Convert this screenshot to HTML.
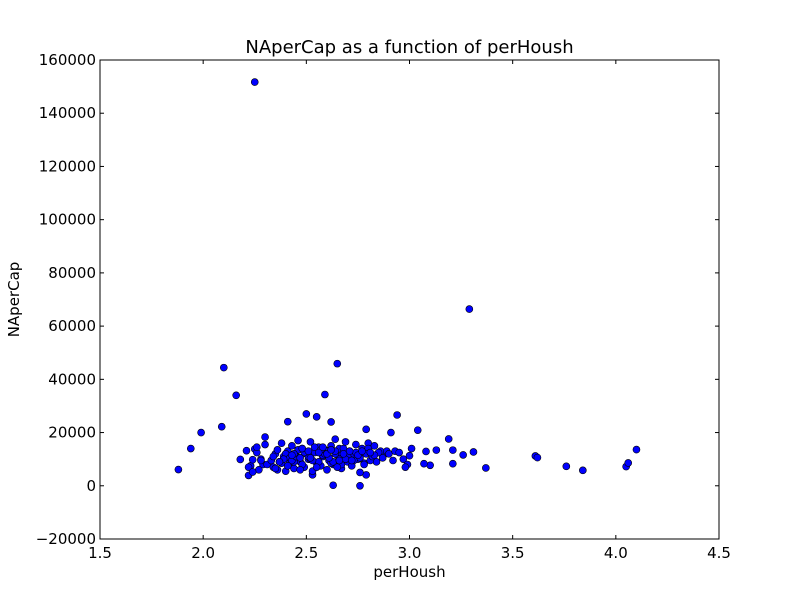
<!DOCTYPE html>
<html><head><meta charset="utf-8"><style>
html,body{margin:0;padding:0;background:#fff;}
svg{display:block;font-family:"DejaVu Sans","Liberation Sans",sans-serif;}
</style></head><body>
<svg id="chart" width="800" height="600" viewBox="0 0 800 600"></svg>
<script>
const xTicks=[1.5,2.0,2.5,3.0,3.5,4.0,4.5];
const yTicks=[-20000,0,20000,40000,60000,80000,100000,120000,140000,160000];
const xVals=[2.25,3.29,2.65,2.10,2.16,2.59,1.88,1.94,1.99,2.09,2.18,2.22,2.30,2.50,2.55,2.62,2.41,2.94,3.04,3.19,2.79,2.91,3.13,3.21,3.26,3.31,3.37,3.61,3.62,3.76,3.84,4.05,4.06,4.10,2.63,2.76,2.79,2.53,3.08,3.10,3.07,3.21,2.97,3.00,3.01,2.99,2.98,2.92,2.88,2.86,2.84,
2.21,2.23,2.24,2.25,2.26,2.27,2.28,2.29,2.22,2.24,2.26,2.28,2.30,2.31,2.33,2.34,2.35,2.36,2.37,2.38,2.39,2.40,2.41,2.42,2.43,2.44,2.45,2.46,2.47,2.48,2.49,2.50,2.51,2.52,2.53,2.54,2.55,2.56,2.57,2.58,2.59,2.60,2.61,2.62,2.63,2.64,2.65,2.66,2.67,2.68,2.69,2.70,2.71,2.72,2.73,2.74,2.75,2.76,2.77,2.78,2.79,2.80,2.81,2.82,2.83,2.85,2.87,2.89,2.90,2.93,2.95,
2.34,2.36,2.38,2.40,2.42,2.44,2.46,2.48,2.50,2.52,2.54,2.56,2.58,2.60,2.62,2.64,2.66,2.68,2.70,2.72,2.74,2.76,2.78,2.80,2.82,2.35,2.39,2.43,2.47,2.51,2.55,2.59,2.63,2.67,2.71,2.75,2.79,2.83,2.37,2.41,2.45,2.49,2.53,2.57,2.61,2.65,2.69,2.73,2.77,2.81,2.44,2.48,2.52,2.56,2.60,2.64,2.68,2.72,2.43,2.47,2.51,2.58,2.62,2.66,2.70,2.74];
const yVals=[151700,66400,45900,44400,34000,34300,6100,14000,20000,22200,9900,3900,18300,27000,25900,24000,24100,26600,20900,17600,21200,20000,13400,13400,11600,12700,6700,11200,10600,7300,5800,7200,8600,13600,200,0,4100,4100,12900,7700,8300,8300,10000,11300,14000,8000,7000,9500,12000,13000,9000,
13200,7500,9800,13800,12500,6000,10000,8000,7000,5200,14500,9500,15500,8000,9500,7000,12000,6000,9000,16000,11000,5500,13000,8500,15000,6500,11500,17000,9000,14000,7000,12000,10000,16500,5500,12500,8500,14500,7500,11000,13500,6000,9500,15000,8000,17500,11500,14000,6500,10500,16500,9000,13000,7500,12000,15500,10000,5000,14000,8500,13000,16000,9500,11500,15000,12500,10500,13000,12000,13000,12500,
11000,13500,8500,12000,10500,9000,13500,8000,12500,10000,14500,9000,11500,13000,8500,12000,10000,14000,11000,9500,12500,10500,8000,14000,11000,6500,10000,9500,6000,11000,7000,12000,9000,8000,13000,11500,12000,11500,9000,7500,11000,12500,9500,13500,10500,7000,10000,9500,13000,12500,12000,14000,10500,12500,12000,13000,12000,9500,11500,10500,13000,14500,13500,9500];
const svg=document.getElementById('chart');
const NS='http://www.w3.org/2000/svg';
const L=100,R=719,T=60,B=539;
const xs=v=>L+(v-1.5)/3*(R-L);
const ys=v=>B-(v+20000)/180000*(B-T);
function mk(tag,attrs,parent){const e=document.createElementNS(NS,tag);for(const k in attrs)e.setAttribute(k,attrs[k]);(parent||svg).appendChild(e);return e;}
const pts=mk('g',{});


const n=Math.min(xVals.length,yVals.length);
for(let i=0;i<n;i++){
  const c=mk('circle',{cx:xs(xVals[i]),cy:ys(yVals[i]),r:3.5,fill:'#0000ff',stroke:'#000','stroke-width':0.6},pts);
  
  
}
const frame=mk('rect',{x:L,y:T,width:R-L,height:B-T,fill:'none',stroke:'#000','stroke-width':1});


xTicks.forEach(v=>{
  const x=xs(v);
  mk('line',{x1:x,x2:x,y1:B,y2:B-4,stroke:'#000'});
  mk('line',{x1:x,x2:x,y1:T,y2:T+4,stroke:'#000'});
  const t=mk('text',{x:x,y:B+19,'text-anchor':'middle','font-size':15});
  t.textContent=v.toFixed(1);
  
  
});
yTicks.forEach(v=>{
  const y=ys(v);
  mk('line',{x1:L,x2:L+4,y1:y,y2:y,stroke:'#000'});
  mk('line',{x1:R,x2:R-4,y1:y,y2:y,stroke:'#000'});
  const t=mk('text',{x:L-4,y:y+5,'text-anchor':'end','font-size':15});
  t.textContent=v<0?'\u2212'+(-v):String(v);
  
  
});
const title=mk('text',{x:(L+R)/2,y:53,'text-anchor':'middle','font-size':18});
title.textContent='NAperCap as a function of perHoush';


const xl=mk('text',{x:(L+R)/2,y:577,'text-anchor':'middle','font-size':15});
xl.textContent='perHoush';


const yl=mk('text',{x:0,y:0,'text-anchor':'middle','font-size':15,transform:'translate(19,'+((T+B)/2)+') rotate(-90)'});
yl.textContent='NAperCap';


</script>
</body></html>
